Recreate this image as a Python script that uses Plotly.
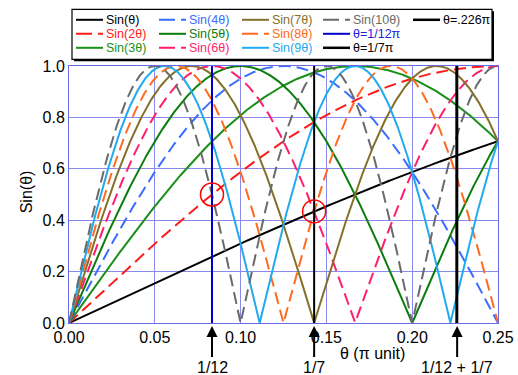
import numpy as np
import plotly.graph_objects as go

# ---- data ----
harmonics = [1, 2, 3, 4, 5, 6, 7, 8, 9, 10]
series_names = ["Sin(θ)", "Sin(2θ)", "Sin(3θ)", "Sin(4θ)", "Sin(5θ)",
                "Sin(6θ)", "Sin(7θ)", "Sin(8θ)", "Sin(9θ)", "Sin(10θ)"]
theta_max = 0.25  # in units of pi
marker_lines_theta = [0.226, 1 / 12, 1 / 7]
marker_lines_names = ["θ=.226π", "θ=1/12π", "θ=1/7π"]
circle_theta = [1 / 12, 1 / 7]
circle_values = [0.5, 0.434]
arrow_theta = [1 / 12, 1 / 7, 1 / 12 + 1 / 7]
arrow_labels = ["1/12", "1/7", "1/12 + 1/7"]
x_title = "θ (π unit)"
y_title = "Sin(θ)"

# ---- styles ----
colors = ["#000000", "#ff1a1a", "#1a8f1a", "#3a6cff", "#0a7d0a",
          "#ff1e6e", "#84702a", "#ff6a21", "#22aaee", "#6a6a6a"]
dashed = [False, True, False, True, False, True, False, True, False, True]
mline_colors = ["#000000", "#0000cc", "#000000"]
mline_widths = [3, 2, 2]

theta = np.linspace(0, theta_max, 1001)

fig = go.Figure()
for n, name, c, d in zip(harmonics, series_names, colors, dashed):
    fig.add_trace(go.Scatter(
        x=theta, y=np.abs(np.sin(n * np.pi * theta)), mode="lines", name=name,
        line=dict(color=c, width=2, dash="12px,6px" if d else "solid"),
        showlegend=False, hoverinfo="skip"))

for t, name, c, w in zip(marker_lines_theta, marker_lines_names, mline_colors, mline_widths):
    fig.add_trace(go.Scatter(x=[t, t], y=[0, 1], mode="lines", name=name,
                             line=dict(color=c, width=w), showlegend=False))

fig.add_trace(go.Scatter(x=circle_theta, y=circle_values, mode="markers",
                         marker=dict(symbol="circle-open", size=23, color="#ff0000",
                                     line=dict(color="#ff0000", width=1.5)),
                         showlegend=False, cliponaxis=False))

FONT = "Liberation Sans, Arial, sans-serif"
for t, lab in zip(arrow_theta, arrow_labels):
    fig.add_annotation(x=t, y=0, xref="x", yref="y", text=lab,
                       showarrow=True, ax=0, ay=44, arrowhead=2, arrowsize=1.1,
                       arrowwidth=2, arrowcolor="black", standoff=3,
                       font=dict(size=16, color="black", family=FONT))

# ---- custom legend (pixel positions -> paper) ----
PX0, PX1, PY0, PY1 = 69, 498, 322.7, 65.7
def px(x):
    return (x - PX0) / (PX1 - PX0)
def py(y):
    return (PY0 - y) / (PY0 - PY1)

# axis titles
fig.add_annotation(x=px(372), y=py(353), xref="paper", yref="paper", text=x_title,
                   showarrow=False, xanchor="center", yanchor="middle",
                   font=dict(size=16, color="black", family=FONT))
fig.add_annotation(x=px(26), y=py(192), xref="paper", yref="paper", text=y_title,
                   showarrow=False, xanchor="center", yanchor="middle", textangle=-90,
                   font=dict(size=16, color="black", family=FONT))

shapes = []
shapes.append(dict(type="rect", xref="paper", yref="paper",
                   x0=px(74), x1=px(494), y0=py(61), y1=py(11),
                   fillcolor="black", line=dict(width=0), layer="above"))
shapes.append(dict(type="rect", xref="paper", yref="paper",
                   x0=px(72), x1=px(492), y0=py(59), y1=py(9),
                   fillcolor="white", line=dict(color="black", width=1.2), layer="above"))

legend_entries = []  # (col_x, row, name, color, dash, width)
col_x = [76, 159, 242, 323, 413]
for i, (name, c, d) in enumerate(zip(series_names, colors, dashed)):
    legend_entries.append((col_x[i // 3], i % 3, name, c, d, 2))
legend_entries.append((col_x[4], 0, marker_lines_names[0], mline_colors[0], False, 2.5))
legend_entries.append((col_x[3], 1, marker_lines_names[1], mline_colors[1], False, 2))
legend_entries.append((col_x[3], 2, marker_lines_names[2], mline_colors[2], False, 2.5))
row_y = [19.5, 33.5, 47.5]

for cx, r, name, c, d, w in legend_entries:
    yy = row_y[r]
    shapes.append(dict(type="line", xref="paper", yref="paper",
                       x0=px(cx), x1=px(cx + 27), y0=py(yy), y1=py(yy),
                       line=dict(color=c, width=w, dash="16px,6px" if d else "solid"),
                       layer="above"))
    txt_color = c if name not in ("θ=.226π", "θ=1/7π") else "#000000"
    if name == "θ=1/12π":
        txt_color = "#2222dd"
    fig.add_annotation(x=px(cx + 28), y=py(yy), xref="paper", yref="paper",
                       text=name, showarrow=False, xanchor="left", yanchor="middle",
                       font=dict(size=12.5, color=txt_color, family=FONT))

fig.update_layout(
    width=518, height=375,
    margin=dict(l=69, r=20, t=66, b=52, autoexpand=False),
    paper_bgcolor="white", plot_bgcolor="white",
    font=dict(family=FONT, size=16, color="black"),
    shapes=shapes,
    showlegend=False,
)
fig.update_xaxes(range=[0, 0.25], dtick=0.05, tickformat=".2f", automargin=False,
                 showgrid=True, gridcolor="#8a8aee", gridwidth=1,
                 showline=True, linecolor="#6a6ae8", linewidth=1, mirror=True,
                 zeroline=False, ticks="", ticklen=0,
                 tickfont=dict(size=16))
fig.update_yaxes(range=[0, 1], dtick=0.2, tickformat=".1f", automargin=False,
                 showgrid=True, gridcolor="#8a8aee", gridwidth=1,
                 showline=True, linecolor="#6a6ae8", linewidth=1, mirror=True,
                 zeroline=False, ticks="", ticklen=0,
                 tickfont=dict(size=16))

fig.write_html("out.html", config={"displayModeBar": False},
               post_script="document.body.style.margin='0';document.body.style.overflow='hidden';")
